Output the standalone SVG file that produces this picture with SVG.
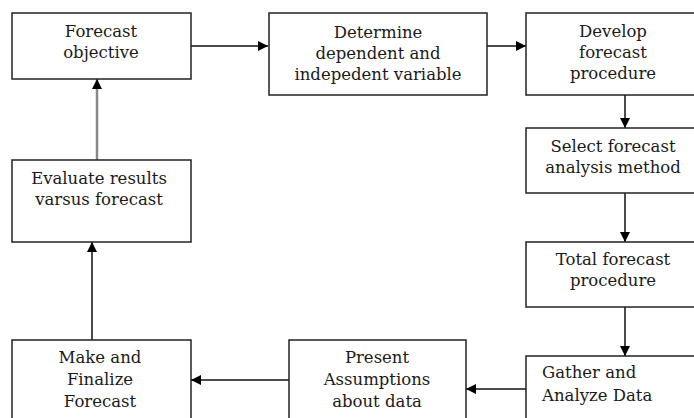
<svg xmlns="http://www.w3.org/2000/svg" width="694" height="418" viewBox="0 0 694 418">
<style>
.box{fill:#fff;stroke:#222;stroke-width:1.5}
.t{font-family:"DejaVu Serif",serif;font-size:16.5px;fill:#1a1a1a;text-anchor:middle}
.l{text-anchor:start}
.c{stroke:#111;stroke-width:1.5;fill:none}
.g{stroke:#888;stroke-width:2.5;fill:none}
</style>
<defs>
<marker id="ah" viewBox="0 0 10 10" refX="10" refY="5" markerWidth="10" markerHeight="10" markerUnits="userSpaceOnUse" orient="auto">
<path d="M0,0 L10,5 L0,10 Z" fill="#000"/>
</marker>
</defs>
<rect width="694" height="418" fill="#fff"/>
<g id="connectors">
<line class="c" x1="191" y1="46" x2="268" y2="46" marker-end="url(#ah)"/>
<line class="c" x1="487" y1="46" x2="526" y2="46" marker-end="url(#ah)"/>
<line class="c" x1="625" y1="95" x2="625" y2="128" marker-end="url(#ah)"/>
<line class="c" x1="625" y1="193" x2="625" y2="242" marker-end="url(#ah)"/>
<line class="c" x1="625" y1="307" x2="625" y2="356" marker-end="url(#ah)"/>
<line class="c" x1="526" y1="389" x2="466" y2="389" marker-end="url(#ah)"/>
<line class="c" x1="289" y1="380" x2="191" y2="380" marker-end="url(#ah)"/>
<line class="c" x1="92" y1="340" x2="92" y2="242" marker-end="url(#ah)"/>
<line class="g" x1="97" y1="160" x2="97" y2="79" marker-end="url(#ah)"/>
</g>
<g id="n1">
<rect class="box" x="12" y="13" width="179" height="66"/>
<text class="t" x="101" y="37">Forecast</text>
<text class="t" x="101" y="58">objective</text>
</g>
<g id="n2">
<rect class="box" x="269" y="13" width="218" height="82"/>
<text class="t" x="378" y="38">Determine</text>
<text class="t" x="378" y="59">dependent and</text>
<text class="t" x="378" y="80">indepedent variable</text>
</g>
<g id="n3">
<rect class="box" x="526" y="13" width="174" height="82"/>
<text class="t" x="613" y="37">Develop</text>
<text class="t" x="613" y="58">forecast</text>
<text class="t" x="613" y="79">procedure</text>
</g>
<g id="n4">
<rect class="box" x="526" y="128" width="174" height="65"/>
<text class="t" x="613" y="152">Select forecast</text>
<text class="t" x="613" y="173">analysis method</text>
</g>
<g id="n5">
<rect class="box" x="526" y="242" width="174" height="65"/>
<text class="t" x="613" y="265">Total forecast</text>
<text class="t" x="613" y="286">procedure</text>
</g>
<g id="n6">
<rect class="box" x="526" y="356" width="174" height="70"/>
<text class="t l" x="542" y="378">Gather and</text>
<text class="t l" x="542" y="401">Analyze Data</text>
</g>
<g id="n7">
<rect class="box" x="289" y="340" width="177" height="86"/>
<text class="t" x="377" y="363">Present</text>
<text class="t" x="377" y="385">Assumptions</text>
<text class="t" x="377" y="407">about data</text>
</g>
<g id="n8">
<rect class="box" x="12" y="340" width="179" height="86"/>
<text class="t" x="100" y="363">Make and</text>
<text class="t" x="100" y="385">Finalize</text>
<text class="t" x="100" y="407">Forecast</text>
</g>
<g id="n9">
<rect class="box" x="12" y="160" width="179" height="82"/>
<text class="t" x="99" y="184">Evaluate results</text>
<text class="t" x="99" y="205">varsus forecast</text>
</g>
</svg>
